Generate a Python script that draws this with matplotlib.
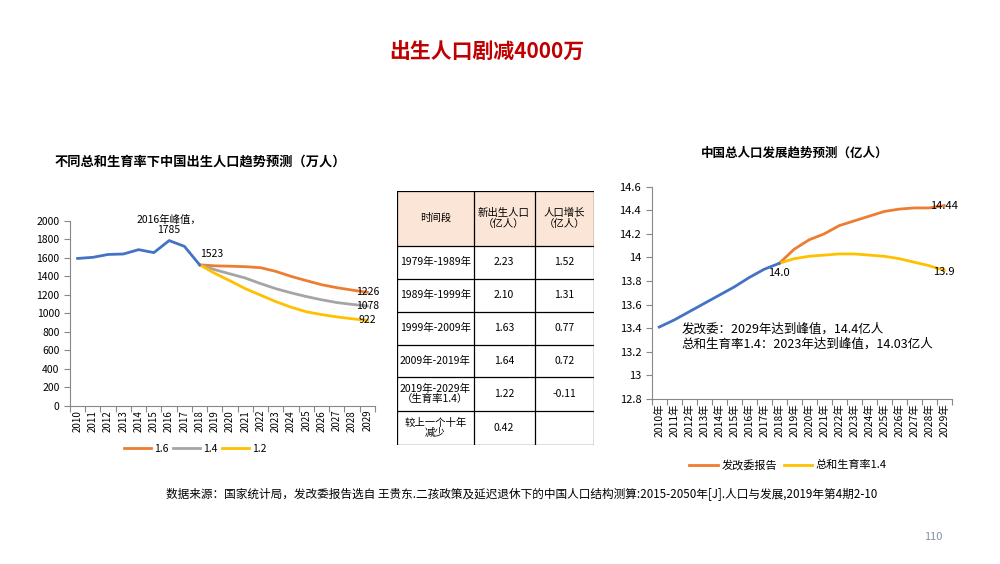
import matplotlib
matplotlib.use("Agg")
import matplotlib.pyplot as plt
from matplotlib.ticker import FixedLocator

plt.rcParams['font.family'] = ['Noto Sans CJK SC', 'DejaVu Sans']

# left chart: births (10k persons)
years = list(range(2010, 2030))
hist_years = list(range(2010, 2019))
births_hist = [1592, 1604, 1635, 1640, 1687, 1655, 1785, 1723, 1523]
proj_years = list(range(2018, 2030))
births_16 = [1523, 1512, 1508, 1503, 1492, 1452, 1398, 1352, 1308, 1276, 1250, 1226]
births_14 = [1523, 1470, 1425, 1380, 1320, 1265, 1220, 1180, 1145, 1115, 1095, 1078]
births_12 = [1523, 1430, 1350, 1265, 1195, 1125, 1065, 1015, 985, 960, 940, 922]

# right chart: total population (100m persons)
pop_hist = [13.41, 13.47, 13.54, 13.61, 13.68, 13.75, 13.83, 13.90, 13.95]
pop_ndrc = [13.95, 14.07, 14.15, 14.20, 14.27, 14.31, 14.35, 14.39, 14.41, 14.42, 14.42, 14.44]
pop_tfr14 = [13.95, 13.99, 14.01, 14.02, 14.03, 14.03, 14.02, 14.01, 13.99, 13.96, 13.93, 13.89]
pop_labels = {'hist': '14.0', 'ndrc': '14.44', 'tfr14': '13.9'}

# table
table_header = ['时间段', '新出生人口\n（亿人）', '人口增长\n（亿人）']
table_rows = [
    ['1979年-1989年', '2.23', '1.52'],
    ['1989年-1999年', '2.10', '1.31'],
    ['1999年-2009年', '1.63', '0.77'],
    ['2009年-2019年', '1.64', '0.72'],
    ['2019年-2029年\n（生育率1.4）', '1.22', '-0.11'],
    ['较上一个十年\n减少', '0.42', ''],
]

BLUE = '#4472C4'
ORANGE = '#ED7D31'
GRAY = '#A5A5A5'
YELLOW = '#FFC000'
AXC = '#888888'

fig = plt.figure(figsize=(10, 5.64), dpi=100)
W, H = 1000, 564


def fx(x):
    return x / W


def fy(y):
    return 1 - y / H


def style_axes(ax):
    for s in ['top', 'right']:
        ax.spines[s].set_visible(False)
    for s in ['left', 'bottom']:
        ax.spines[s].set_color(AXC)
        ax.spines[s].set_linewidth(0.8)
    ax.set_xlim(2009.5, 2029.5)
    ax.set_xticks(years)
    ax.xaxis.set_minor_locator(FixedLocator([y + 0.5 for y in range(2009, 2030)]))
    ax.tick_params(axis='x', which='major', length=0, pad=3, labelsize=7, rotation=90)
    ax.tick_params(axis='x', which='minor', length=4, color=AXC, width=0.8)
    ax.tick_params(axis='y', length=4, color=AXC, width=0.8, labelsize=7.5)


fig.text(0.487, fy(52), '出生人口剧减4000万', color='#C00000', fontsize=15,
         fontweight='bold', ha='center', va='center')

# ---- left chart
ax1 = fig.add_axes([fx(70), fy(405.7), fx(305), (405.7 - 220.7) / H])
style_axes(ax1)
ax1.set_ylim(0, 2000)
ax1.set_yticks(range(0, 2001, 200))
ax1.set_xticklabels([str(y) for y in years])
l16, = ax1.plot(proj_years, births_16, color=ORANGE, lw=2, label='1.6')
l14, = ax1.plot(proj_years, births_14, color=GRAY, lw=2, label='1.4')
l12, = ax1.plot(proj_years, births_12, color=YELLOW, lw=2, label='1.2')
ax1.plot(hist_years, births_hist, color=BLUE, lw=2)
ax1.text(2016, births_hist[6] + 170, '2016年峰值，', fontsize=7.5, ha='center', va='bottom')
ax1.text(2016, births_hist[6] + 60, str(births_hist[6]), fontsize=7.5, ha='center', va='bottom')
ax1.text(2018, births_hist[8] + 60, str(births_hist[8]), fontsize=7.5, ha='left', va='bottom')
ax1.text(2029, births_16[-1], str(births_16[-1]), fontsize=7.5, ha='center', va='center')
ax1.text(2029, births_14[-1], str(births_14[-1]), fontsize=7.5, ha='center', va='center')
ax1.text(2029, births_12[-1], str(births_12[-1]), fontsize=7.5, ha='center', va='center')
ax1.legend(handles=[l16, l14, l12], loc='center', bbox_to_anchor=(fx(195), fy(449)),
           bbox_transform=fig.transFigure, ncol=3, frameon=False, fontsize=7.5,
           handlelength=2.6, columnspacing=0.4, handletextpad=0.3)
fig.text(fx(55), fy(162), '不同总和生育率下中国出生人口趋势预测（万人）', fontsize=9.5,
         fontweight='bold', ha='left', va='center')

# ---- table
axt = fig.add_axes([fx(397), fy(445), fx(197), 254.3 / H])
axt.set_axis_off()
axt.set_xlim(0, 197)
axt.set_ylim(254.3, 0)
col_x = [0, 76.5, 137.5, 197]
row_y = [0, 55, 88, 121.3, 154, 186.6, 220, 254.3]
axt.add_patch(plt.Rectangle((0, 0), 197, 55, facecolor='#FBE5D6', edgecolor='none'))
for x in col_x:
    axt.plot([x, x], [0, 254.3], color='black', lw=0.9)
for y in row_y:
    axt.plot([0, 197], [y, y], color='black', lw=0.9)
for j, txt in enumerate(table_header):
    axt.text((col_x[j] + col_x[j + 1]) / 2, (row_y[0] + row_y[1]) / 2, txt,
             ha='center', va='center', fontsize=7.5, linespacing=1.1)
for i, row in enumerate(table_rows):
    for j, txt in enumerate(row):
        axt.text((col_x[j] + col_x[j + 1]) / 2, (row_y[i + 1] + row_y[i + 2]) / 2, txt,
                 ha='center', va='center', fontsize=7.5, linespacing=1.0)

# ---- right chart
ax2 = fig.add_axes([fx(651.7), fy(399), fx(300), (399 - 186.7) / H])
style_axes(ax2)
ax2.set_ylim(12.8, 14.6)
yt = [12.8, 13.0, 13.2, 13.4, 13.6, 13.8, 14.0, 14.2, 14.4, 14.6]
ax2.set_yticks(yt)
ax2.set_yticklabels(['12.8', '13', '13.2', '13.4', '13.6', '13.8', '14', '14.2', '14.4', '14.6'])
ax2.set_xticklabels([f'{y}年' for y in years])
ax2.tick_params(axis='x', which='major', labelsize=7.5)
ax2.tick_params(axis='y', labelsize=8)
r1, = ax2.plot(proj_years, pop_ndrc, color=ORANGE, lw=2, label='发改委报告')
r2, = ax2.plot(proj_years, pop_tfr14, color=YELLOW, lw=2, label='总和生育率1.4')
ax2.plot(hist_years, pop_hist, color=BLUE, lw=2)
ax2.text(2029, pop_ndrc[-1], pop_labels['ndrc'], fontsize=8, ha='center', va='center')
ax2.text(2029, pop_tfr14[-1] - 0.01, pop_labels['tfr14'], fontsize=8, ha='center', va='center')
ax2.text(2018, pop_hist[-1] - 0.04, pop_labels['hist'], fontsize=8, ha='center', va='top')
ax2.text(2011.5, 13.45, '发改委：2029年达到峰值，14.4亿人\n总和生育率1.4：2023年达到峰值，14.03亿人',
         fontsize=9, ha='left', va='top', linespacing=1.2)
ax2.legend(handles=[r1, r2], loc='center', bbox_to_anchor=(fx(788), fy(465)),
           bbox_transform=fig.transFigure, ncol=2, frameon=False, fontsize=8,
           handlelength=2.6, columnspacing=0.6, handletextpad=0.3)
fig.text(fx(795), fy(153), '中国总人口发展趋势预测（亿人）', fontsize=9, fontweight='bold',
         ha='center', va='center')

fig.text(fx(522), fy(495), '数据来源：国家统计局，发改委报告选自 王贵东.二孩政策及延迟退休下的中国人口结构测算:2015-2050年[J].人口与发展,2019年第4期2-10',
         fontsize=8.4, ha='center', va='center')
fig.text(fx(933), fy(537), '110', fontsize=8, color='#7F8FA9', ha='center', va='center')

fig.savefig('out.png', dpi=100)
